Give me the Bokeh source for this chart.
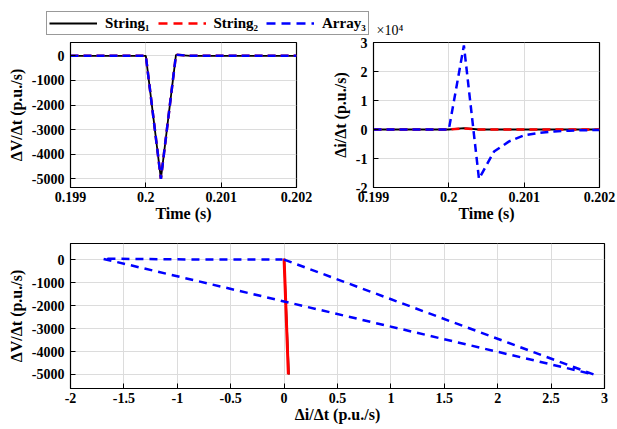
from bokeh.plotting import figure
from bokeh.models import (Range1d, FixedTicker, CustomJSTickFormatter,
                          Legend, LegendItem, Label)
from bokeh.layouts import column, row
from bokeh.embed import file_html
from bokeh.resources import INLINE

# ---------------- data ----------------
time_s = [0.1990, 0.1992, 0.1994, 0.1996, 0.1998, 0.2000, 0.2002, 0.2004,
          0.2006, 0.2008, 0.2010, 0.2012, 0.2014, 0.2016, 0.2018, 0.2020]
dv_string1 = [0, 0, 0, 0, 0, 0, -5000, 40, 0, 0, 0, 0, 0, 0, 0, 0]
dv_string2 = [0, 0, 0, 0, 0, 0, -5000, 40, 0, 0, 0, 0, 0, 0, 0, 0]
dv_array3 = [0, 0, 0, 0, 0, 0, -5000, 40, 0, 0, 0, 0, 0, 0, 0, 0]
di_string1 = [0, 0, 0, 0, 0, 0, 450, 0, 0, 0, 0, 0, 0, 0, 0, 0]
di_string2 = [0, 0, 0, 0, 0, 0, 400, 0, 0, 0, 0, 0, 0, 0, 0, 0]
di_array3 = [0, 0, 0, 0, 0, 0, 29000, -17000, -7600, -4100, -2000, -1200,
             -700, -400, -250, -150]

time_ticks = [0.199, 0.200, 0.201, 0.202]
dv_ticks = [-5000, -4000, -3000, -2000, -1000, 0]
di_ticks = [-20000, -10000, 0, 10000, 20000, 30000]
di_ticks_x = [-20000, -15000, -10000, -5000, 0, 5000, 10000, 15000, 20000, 25000, 30000]

series_names = ["String\u2081", "String\u2082", "Array\u2083"]

FONT = "Liberation Serif"
TICK_PX = "14px"
TITLE_PX = "16px"

fmt_time = CustomJSTickFormatter(code="return String(Number(tick.toFixed(4)));")
fmt_int = CustomJSTickFormatter(code="return tick.toFixed(0);")
fmt_e4 = CustomJSTickFormatter(code="return String(Number((tick/1e4).toFixed(2)));")


def style(p, xticks, yticks, xfmt, yfmt, xlabel, ylabel):
    p.outline_line_color = "black"
    p.outline_line_width = 1.2
    p.background_fill_color = "white"
    p.border_fill_color = "white"
    p.xaxis.ticker = FixedTicker(ticks=xticks)
    p.yaxis.ticker = FixedTicker(ticks=yticks)
    p.xaxis.formatter = xfmt
    p.yaxis.formatter = yfmt
    p.xaxis.axis_label = xlabel
    p.yaxis.axis_label = ylabel
    for ax in p.xaxis + p.yaxis:
        ax.major_label_text_font = FONT
        ax.major_label_text_font_style = "bold"
        ax.major_label_text_font_size = TICK_PX
        ax.major_label_text_color = "black"
        ax.axis_label_text_font = FONT
        ax.axis_label_text_font_style = "bold"
        ax.axis_label_text_font_size = TITLE_PX
        ax.axis_label_text_color = "black"
        ax.major_tick_in = 5
        ax.major_tick_out = 0
        ax.minor_tick_in = 0
        ax.minor_tick_out = 0
        ax.axis_line_color = "black"
        ax.major_tick_line_color = "black"
    p.xaxis.major_label_standoff = 4
    p.xaxis.axis_label_standoff = 0
    p.yaxis.major_label_standoff = 6
    p.yaxis.axis_label_standoff = 4
    p.xgrid.ticker = FixedTicker(ticks=xticks)
    p.ygrid.ticker = FixedTicker(ticks=yticks)
    p.grid.grid_line_color = "#dcdcdc"
    p.grid.grid_line_width = 1


# ---------------- legend strip ----------------
strip = figure(width=617, height=36, x_range=Range1d(0, 1), y_range=Range1d(0, 1),
               x_axis_location=None, y_axis_location=None, toolbar_location=None,
               output_backend="svg", min_border=0, frame_align=False)
strip.grid.visible = False
strip.outline_line_color = None
l1 = strip.line(x=[5, 6], y=[5, 6], line_color="black", line_width=1.8)
l2 = strip.line(x=[5, 6], y=[5, 6], line_color="red", line_width=2.5, line_dash="9 6")
l3 = strip.line(x=[5, 6], y=[5, 6], line_color="blue", line_width=2.5, line_dash="9 6")
legend = Legend(items=[LegendItem(label=series_names[0], renderers=[l1]),
                       LegendItem(label=series_names[1], renderers=[l2]),
                       LegendItem(label=series_names[2], renderers=[l3])],
                orientation="horizontal", location=(46, 1),
                border_line_color="#333333", border_line_width=1.5,
                padding=2, spacing=8, margin=0, glyph_width=48, glyph_height=18,
                label_height=18, label_standoff=8,
                label_text_font=FONT, label_text_font_style="bold",
                label_text_font_size="15px", label_text_color="black")
strip.add_layout(legend)
strip.add_layout(Label(x=376, y=-1, x_units="screen", y_units="screen",
                       text="\u00d710\u2074", text_font=FONT, text_font_size="14px",
                       text_color="black", text_baseline="bottom"))

# ---------------- top-left: dV/dt vs time ----------------
p1 = figure(width=318, height=192, x_range=Range1d(0.199, 0.202),
            y_range=Range1d(-5350, 540), toolbar_location=None, output_backend="svg",
            min_border_left=70, min_border_right=22, min_border_top=6, min_border_bottom=41,
            frame_align=False)
p1.line(time_s, dv_string1, line_color="black", line_width=1.8)
p1.line(time_s, dv_string2, line_color="red", line_width=2.5, line_dash="8 5")
p1.line(time_s, dv_array3, line_color="blue", line_width=2.5, line_dash="8 5")
style(p1, time_ticks, dv_ticks, fmt_time, fmt_int, "Time (s)", "\u0394V/\u0394t (p.u./s)")

# ---------------- top-right: di/dt vs time ----------------
p2 = figure(width=299, height=192, x_range=Range1d(0.199, 0.202),
            y_range=Range1d(-20000, 30000), toolbar_location=None, output_backend="svg",
            min_border_left=55, min_border_right=18, min_border_top=6, min_border_bottom=41,
            frame_align=False)
p2.line(time_s, di_string1, line_color="black", line_width=1.8)
p2.line(time_s, di_string2, line_color="red", line_width=2.5, line_dash="8 5")
p2.line(time_s, di_array3, line_color="blue", line_width=2.5, line_dash="8 5")
style(p2, time_ticks, di_ticks, fmt_time, fmt_e4, "Time (s)", "\u0394i/\u0394t (p.u./s)")

# ---------------- bottom: dV/dt vs di/dt ----------------
p3 = figure(width=617, height=201, x_range=Range1d(-20000, 30000),
            y_range=Range1d(-5610, 700), toolbar_location=None, output_backend="svg",
            min_border_left=70, min_border_right=13, min_border_top=15, min_border_bottom=41,
            frame_align=False)
p3.line(di_string1, dv_string1, line_color="black", line_width=1.8)
p3.line(di_string2, dv_string2, line_color="red", line_width=3)
p3.line(di_array3, dv_array3, line_color="blue", line_width=2.5, line_dash="8 6")
style(p3, di_ticks_x, dv_ticks, fmt_e4, fmt_int, "\u0394i/\u0394t (p.u./s)", "\u0394V/\u0394t (p.u./s)")
p3.add_layout(Label(x=30000, y=-26, x_units="data", y_units="screen",
                    text="\u00d710\u2074", text_font=FONT, text_font_size="14px",
                    text_color="black", text_align="right", text_baseline="top"))

layout = column(strip, row(p1, p2), p3, spacing=0)

with open("out.html", "w") as f:
    f.write(file_html(layout, INLINE))
